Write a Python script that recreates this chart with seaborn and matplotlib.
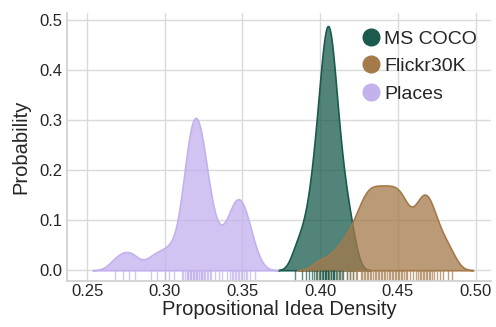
import matplotlib
matplotlib.use("Agg")
import matplotlib.pyplot as plt
from matplotlib.lines import Line2D
from matplotlib.ticker import FuncFormatter
import seaborn as sns

# idea density per caption set
datasets = ["MS COCO", "Flickr30K", "Places"]

ms_coco = [0.384, 0.388, 0.391, 0.393, 0.395, 0.396, 0.397, 0.398, 0.399, 0.400,
           0.400, 0.401, 0.402, 0.402, 0.403, 0.403, 0.404, 0.404, 0.405, 0.405,
           0.405, 0.406, 0.406, 0.407, 0.407, 0.408, 0.408, 0.409, 0.409, 0.410,
           0.411, 0.412, 0.413, 0.414, 0.415, 0.417, 0.419, 0.421]

flickr30k = [0.399, 0.406, 0.411, 0.414, 0.417, 0.419, 0.421, 0.423, 0.424, 0.426,
             0.427, 0.428, 0.429, 0.430, 0.431, 0.432, 0.433, 0.434, 0.435, 0.436,
             0.437, 0.438, 0.439, 0.440, 0.441, 0.442, 0.443, 0.444, 0.445, 0.446,
             0.447, 0.448, 0.449, 0.450, 0.451, 0.452, 0.453, 0.454, 0.455, 0.456,
             0.458, 0.460, 0.462, 0.463, 0.464, 0.465, 0.466, 0.467, 0.468, 0.469,
             0.470, 0.471, 0.472, 0.473, 0.475, 0.477, 0.479, 0.482, 0.485]

places = [0.268, 0.273, 0.277, 0.281, 0.291, 0.295, 0.300, 0.303, 0.306,
          0.311, 0.312, 0.313, 0.314, 0.314, 0.315, 0.315, 0.316, 0.316, 0.317,
          0.317, 0.318, 0.318, 0.319, 0.319, 0.320, 0.320, 0.320, 0.321, 0.321,
          0.322, 0.322, 0.323, 0.323, 0.324, 0.324, 0.325, 0.325, 0.326, 0.327,
          0.328, 0.329, 0.330, 0.332, 0.335, 0.337,
          0.340, 0.342, 0.343, 0.344, 0.345, 0.346, 0.347, 0.348, 0.349, 0.350,
          0.351, 0.352, 0.353, 0.355, 0.358]

colors = {"MS COCO": "#1a5b4e", "Flickr30K": "#a47a4a", "Places": "#c3b1ee"}
bw = {"MS COCO": 0.95, "Flickr30K": 0.5, "Places": 0.55}

sns.set_theme(style="whitegrid", rc={"grid.color": "#dadada", "axes.edgecolor": "#d0d0d0"})
plt.rcParams['font.family'] = ['Liberation Sans', 'DejaVu Sans']

fig, ax = plt.subplots(figsize=(4.96, 3.27), dpi=100)
fig.subplots_adjust(left=0.135, right=0.99, bottom=0.14, top=0.96)

for name, values in zip(datasets, [ms_coco, flickr30k, places]):
    sns.kdeplot(x=values, ax=ax, fill=True, color=colors[name], alpha=0.75,
                linewidth=1.2, bw_adjust=bw[name])
    sns.rugplot(x=values, ax=ax, color=colors[name], height=0.04, alpha=0.7, lw=1)

ax.set_xlim(0.237, 0.510)
ax.set_ylim(-2.2, 51.4)
ax.set_xticks([0.25, 0.30, 0.35, 0.40, 0.45, 0.50])
ax.set_yticks([0, 10, 20, 30, 40, 50])
# density per 0.01 of idea density
ax.yaxis.set_major_formatter(FuncFormatter(lambda v, p: f"{v / 100:.1f}"))
ax.tick_params(axis='both', labelsize=12, length=0)
ax.tick_params(axis='x', pad=2)
ax.set_xlabel("Propositional Idea Density", fontsize=14.5, labelpad=1)
ax.set_ylabel("Probability", fontsize=14.5, labelpad=6)
sns.despine(ax=ax)

handles = [Line2D([], [], marker='o', linestyle='none', markersize=12,
                  color=colors[n]) for n in datasets]
ax.legend(handles, datasets, frameon=False, loc='upper left', fontsize=14,
          bbox_to_anchor=(0.675, 0.965), borderaxespad=0, handlelength=1,
          handletextpad=0.2, labelspacing=0.5)

fig.savefig("out.png", dpi=100)
